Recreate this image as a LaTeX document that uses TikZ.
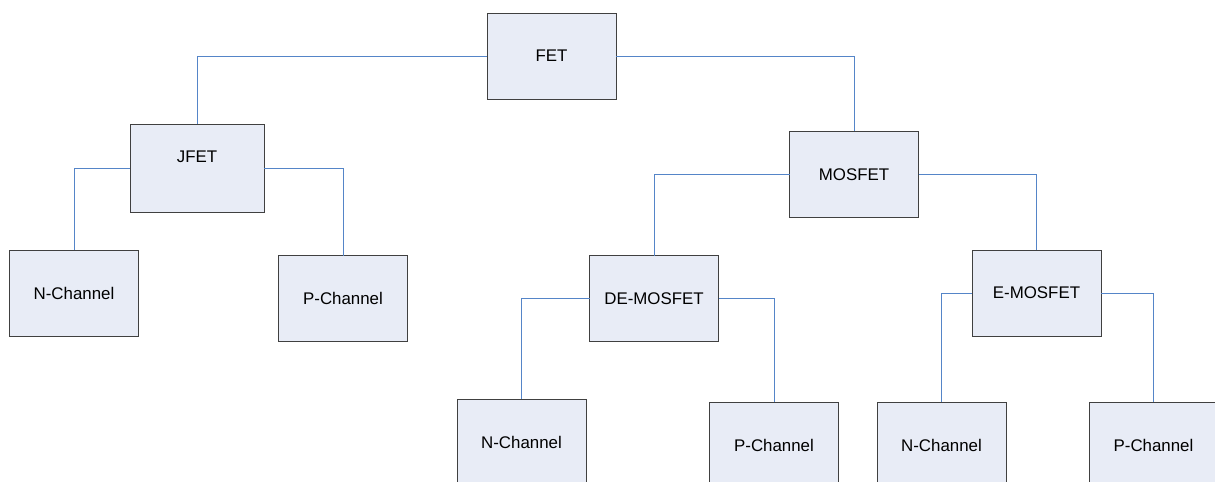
\documentclass[tikz,border=0pt]{standalone}
\usepackage{fontspec}
\setmainfont{Liberation Sans}
\definecolor{boxfill}{HTML}{E8ECF6}
\definecolor{boxline}{HTML}{404040}
\definecolor{wire}{HTML}{5585C8}
\tikzset{
	fetbox/.style={draw=boxline,fill=boxfill,line width=0.75pt,minimum width=3.87cm,minimum height=2.58cm,inner sep=0pt,outer sep=0pt,font=\fontsize{14.4}{17}\selectfont},
	wireline/.style={draw=wire,line width=0.8pt}
}
\begin{document}
\begin{tikzpicture}[x=0.03cm,y=-0.03cm]
	\useasboundingbox (0,0) rectangle (1215,482);
	\node[fetbox] (fet) at (551.5,56) {FET};
	\node[fetbox,minimum width=4.02cm,minimum height=2.64cm,text depth=0.66cm] (jfet) at (197,168) {JFET};
	\node[fetbox] (mosfet) at (854,174.5) {MOSFET};
	\node[fetbox] (jn) at (74,293) {N-Channel};
	\node[fetbox] (jp) at (343,298.5) {P-Channel};
	\node[fetbox] (demos) at (654,298.5) {DE-MOSFET};
	\node[fetbox] (emos) at (1036.5,293) {E-MOSFET};
	\node[fetbox] (den) at (521.5,442) {N-Channel};
	\node[fetbox] (dep) at (774,445) {P-Channel};
	\node[fetbox] (en) at (941.5,445) {N-Channel};
	\node[fetbox] (ep) at (1153.5,445) {P-Channel};
	\draw[wireline] (fet.west) -| (jfet.north);
	\draw[wireline] (fet.east) -| (mosfet.north);
	\draw[wireline] (jfet.west) -| (jn.north);
	\draw[wireline] (jfet.east) -| (jp.north);
	\draw[wireline] (mosfet.west) -| (demos.north);
	\draw[wireline] (mosfet.east) -| (emos.north);
	\draw[wireline] (demos.west) -| (den.north);
	\draw[wireline] (demos.east) -| (dep.north);
	\draw[wireline] (emos.west) -| (en.north);
	\draw[wireline] (emos.east) -| (ep.north);
\end{tikzpicture}
\end{document}
